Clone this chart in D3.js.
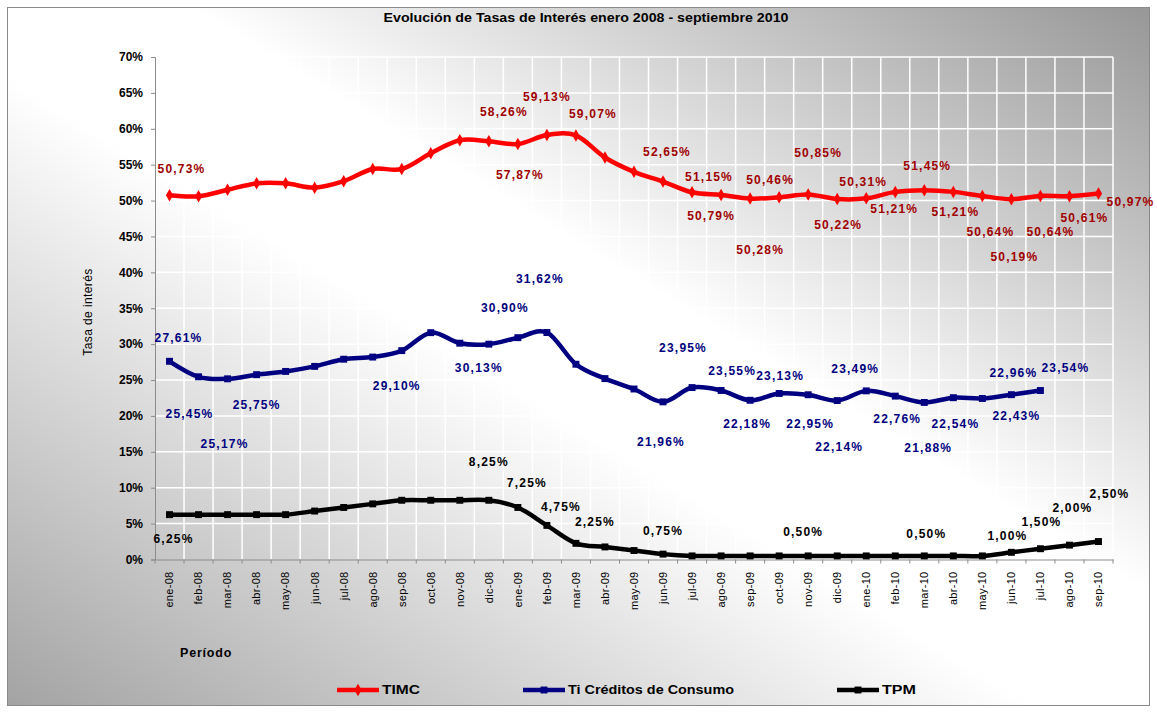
<!DOCTYPE html>
<html><head><meta charset="utf-8">
<script src="https://cdn.jsdelivr.net/npm/d3@7"></script>
<style>body{margin:0;background:#fff}svg{display:block}text{font-family:'Liberation Sans',Arial,sans-serif}</style>
</head><body>
<svg id="c" width="1157" height="714"></svg>
<script>
const months = ["ene-08","feb-08","mar-08","abr-08","may-08","jun-08","jul-08","ago-08","sep-08","oct-08","nov-08","dic-08",
  "ene-09","feb-09","mar-09","abr-09","may-09","jun-09","jul-09","ago-09","sep-09","oct-09","nov-09","dic-09",
  "ene-10","feb-10","mar-10","abr-10","may-10","jun-10","jul-10","ago-10","sep-10"];
const timc = [50.73,50.6,51.5,52.4,52.4,51.8,52.7,54.4,54.4,56.6,58.4,58.26,
  57.87,59.13,59.07,56.0,54.0,52.65,51.15,50.79,50.28,50.46,50.85,50.22,
  50.31,51.21,51.45,51.21,50.64,50.19,50.64,50.61,50.97];
const tiConsumo = [27.61,25.45,25.17,25.75,26.2,26.9,27.9,28.2,29.10,31.6,30.13,30.0,
  30.90,31.62,27.2,25.2,23.75,21.96,23.95,23.55,22.18,23.13,22.95,22.14,
  23.49,22.76,21.88,22.54,22.43,22.96,23.54,null,null];
const tpm = [6.25,6.25,6.25,6.25,6.25,6.75,7.25,7.75,8.25,8.25,8.25,8.25,
  7.25,4.75,2.25,1.75,1.25,0.75,0.50,0.50,0.50,0.50,0.50,0.50,
  0.50,0.50,0.50,0.50,0.50,1.00,1.50,2.00,2.50];
const yTicks = [0,5,10,15,20,25,30,35,40,45,50,55,60,65,70];
const seriesNames = ["TIMC","Ti Créditos de Consumo","TPM"];
// indices of points that carry a data label
const timcLabelIdx = [0,11,12,13,14,17,18,19,20,21,22,23,24,25,26,27,28,29,30,31,32];
const tiLabelIdx = [0,1,2,3,8,10,12,13,17,18,19,20,21,22,23,24,25,26,27,28,29,30];
const tpmLabelIdx = [0,11,12,13,14,17,22,26,29,30,31,32];
// label placement offsets (pixels, relative to point)
const timcLabelOff = [[12,-27],[15,-29],[2,31],[0,-38],[17,-22],[4,-30],[17,-16],[-10,21],[10,51],[-9,-17],[10,-42],[1,26],[-3,-17],[-1,17],[3,-24],[2,20],[8,36],[3,58],[10,36],[15,22],[32,8]];
const tiLabelOff = [[9,-23],[-9,37],[-3,65],[0,30],[-5,35],[19,25],[-13,-30],[-7,-54],[-2,40],[-9,-40],[11,-20],[-3,24],[1,-18],[2,29],[2,46],[-11,-22],[2,23],[4,45],[2,26],[34,17],[2,-22],[25,-23]];
const tpmLabelOff = [[4,24],[0,-38],[9,-25],[14,-19],[19,-22],[0,-23],[-5,-24],[2,-22],[-4,-17],[1,-27],[3,-37],[11,-48]];

const svg = d3.select("#c");
const defs = svg.append("defs");
const grad = defs.append("linearGradient").attr("id","bg").attr("x1",1).attr("y1",0).attr("x2",0).attr("y2",1);
[[0,"#979797"],[0.42,"#ffffff"],[0.55,"#ffffff"],[1,"#a3a3a3"]].forEach(s=>grad.append("stop").attr("offset",s[0]).attr("stop-color",s[1]));
svg.append("rect").attr("x",7.5).attr("y",7.5).attr("width",1142).attr("height",698).attr("fill","url(#bg)").attr("stroke","#8a8a8a").attr("stroke-width",1);

const P = {left:155, right:1113, top:57, bottom:559.5};
const x = d3.scaleBand().domain(months).range([P.left,P.right]);
const y = d3.scaleLinear().domain([0,70]).range([P.bottom,P.top]);
const bw = x.bandwidth();
const cx = i => x(months[i]) + bw/2;

// gridlines
const grid = svg.append("g");
yTicks.filter(t=>t>0).forEach(t=>grid.append("line").attr("x1",P.left).attr("x2",P.right).attr("y1",y(t)).attr("y2",y(t)).attr("stroke","#ffffff").attr("stroke-width",1.5));
months.forEach((m,i)=>grid.append("line").attr("x1",x(m)+bw).attr("x2",x(m)+bw).attr("y1",P.top).attr("y2",P.bottom).attr("stroke","#ffffff").attr("stroke-width",1.5));

// y axis
const ya = svg.append("g").attr("transform",`translate(${P.left},0)`)
  .call(d3.axisLeft(y).tickValues(yTicks).tickFormat(d=>d+"%").tickSize(4).tickPadding(8));
ya.select(".domain").attr("stroke","#8c8c8c");
ya.selectAll(".tick line").attr("stroke","#8c8c8c");
ya.selectAll("text").attr("font-size",12).attr("font-weight","bold").attr("fill","#000").style("font-family","'Liberation Sans',Arial,sans-serif");

// x axis
const xa = svg.append("g").attr("transform",`translate(0,${P.bottom})`)
  .call(d3.axisBottom(x).tickSize(0));
xa.select(".domain").attr("stroke","#8c8c8c");
xa.selectAll("text").attr("transform","rotate(-90)").attr("text-anchor","end").attr("x",-12).attr("y",0).attr("dy","0.35em")
  .attr("font-size",11).attr("fill","#000").style("font-family","'Liberation Sans',Arial,sans-serif").attr("letter-spacing",0.3);
months.forEach((m,i)=>xa.append("line").attr("x1",x(m)).attr("x2",x(m)).attr("y1",0).attr("y2",4).attr("stroke","#8c8c8c"));
xa.append("line").attr("x1",P.right).attr("x2",P.right).attr("y1",0).attr("y2",4).attr("stroke","#8c8c8c");

// titles
svg.append("text").attr("x",586).attr("y",22).attr("text-anchor","middle").attr("font-size",12.5).attr("font-weight","bold")
  .attr("textLength",405).attr("lengthAdjust","spacingAndGlyphs").text("Evolución de Tasas de Interés enero 2008 - septiembre 2010");
svg.append("text").attr("transform","translate(92,312) rotate(-90)").attr("text-anchor","middle").attr("font-size",12)
  .attr("letter-spacing",0.4).text("Tasa de interés");
svg.append("text").attr("x",180).attr("y",657).attr("font-size",12.5).attr("font-weight","bold").attr("letter-spacing",0.8).text("Período");

// series
const line = d3.line().defined(d=>d!=null).x((d,i)=>cx(i)).y(d=>y(d)).curve(d3.curveCatmullRom.alpha(0));
const series = [
  {data:timc, color:"#ff0000", lab:"#a00000", sym:d3.symbolDiamond, size:45, idx:timcLabelIdx, off:timcLabelOff},
  {data:tiConsumo, color:"#000080", lab:"#000080", sym:d3.symbolSquare, size:48, idx:tiLabelIdx, off:tiLabelOff},
  {data:tpm, color:"#000000", lab:"#000000", sym:d3.symbolSquare, size:48, idx:tpmLabelIdx, off:tpmLabelOff}
];
series.forEach(s=>{
  svg.append("path").datum(s.data).attr("d",line).attr("fill","none").attr("stroke",s.color).attr("stroke-width",4.5).attr("stroke-linejoin","round");
  svg.append("g").selectAll("path").data(s.data.map((v,i)=>[v,i]).filter(d=>d[0]!=null)).join("path")
    .attr("transform",d=>`translate(${cx(d[1])},${y(d[0])})`).attr("d",d3.symbol(s.sym,s.size)).attr("fill",s.color);
});
const fmt = v => v.toFixed(2).replace(".",",")+"%";
series.forEach(s=>{
  svg.append("g").selectAll("text").data(s.idx).join("text")
    .attr("x",(d,k)=>cx(d)+s.off[k][0]).attr("y",(d,k)=>y(s.data[d])+s.off[k][1])
    .attr("text-anchor","middle").attr("dy","0.35em").attr("font-size",12).attr("font-weight","bold").attr("letter-spacing",1.2)
    .attr("fill",s.lab).text(d=>fmt(s.data[d]));
});

// legend
const legX = [337,523,837];
const legW = [38,166,34];
series.forEach((s,k)=>{
  const g = svg.append("g").attr("transform",`translate(${legX[k]},690)`);
  g.append("line").attr("x1",0).attr("x2",42).attr("stroke",s.color).attr("stroke-width",4.5);
  g.append("path").attr("transform","translate(21,0)").attr("d",d3.symbol(s.sym,s.size)).attr("fill",s.color);
  g.append("text").attr("x",45).attr("dy","0.35em").attr("font-size",12.5).attr("font-weight","bold")
    .attr("textLength",legW[k]).attr("lengthAdjust","spacingAndGlyphs").text(seriesNames[k]);
});
</script>
</body></html>
